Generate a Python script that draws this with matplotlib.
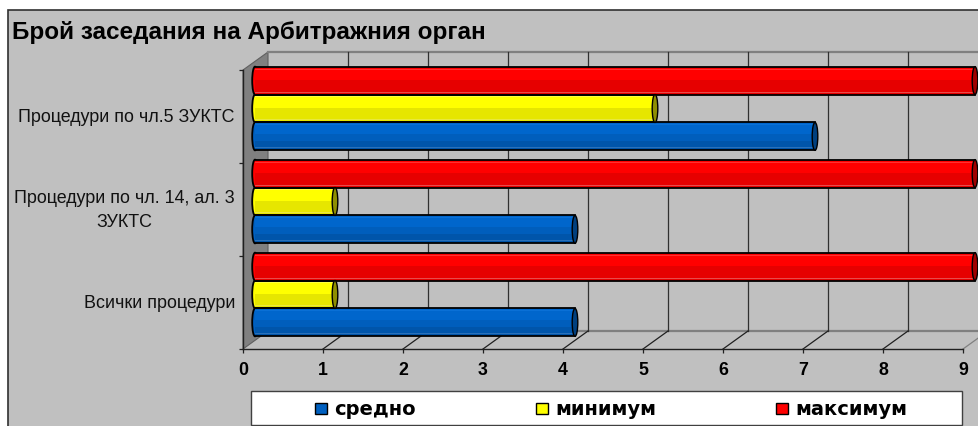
import numpy as np
import matplotlib
matplotlib.use("Agg")
import matplotlib.pyplot as plt
from matplotlib.patches import Rectangle, Ellipse, Polygon

# Data (bottom category first)
categories = ['Всички процедури', 'Процедури по чл. 14, ал. 3\nЗУКТС', 'Процедури по чл.5 ЗУКТС']
sredno_label = 'средно'
minimum_label = 'минимум'
maximum_label = 'максимум'
sredno = [4.1, 4.1, 7.1]
minimum = [1.1, 1.1, 5.1]
maximum = [9.1, 9.1, 9.1]
x_ticks = [0, 1, 2, 3, 4, 5, 6, 7, 8, 9]

W, H = 979, 427
GRAY = '#c0c0c0'
WALL = '#808080'

fig = plt.figure(figsize=(W / 100, H / 100), dpi=100, facecolor='white')
plt.rcParams['font.family'] = ['Liberation Sans', 'DejaVu Sans']


def px_axes(left, top, right, bottom):
    return fig.add_axes([left / W, 1 - bottom / H, (right - left) / W, (bottom - top) / H])


# Background: chart frame, title, legend box (pixel coordinates)
bg = px_axes(0, 0, W, H)
bg.set_xlim(0, W)
bg.set_ylim(H, 0)
bg.axis('off')
bg.add_patch(Rectangle((8, 11), W + 20, H + 20, fc=GRAY, ec='#303030', lw=1.2))
bg.text(12, 32, 'Брой заседания на Арбитражния орган', fontsize=17.45, fontweight='bold',
        family='Liberation Sans', va='center', ha='left', color='black')

bg.add_patch(Rectangle((251.5, 392), 711, 34, fc='white', ec='#404040', lw=1))
legend_items = [(sredno_label, '#0060c0', 315), (minimum_label, '#ffff00', 536), (maximum_label, '#ff0000', 776)]
for name, col, lx in legend_items:
    bg.add_patch(Rectangle((lx, 404), 12, 11, fc=col, ec='black', lw=1))
    bg.text(lx + 19, 410, name, fontsize=14, fontweight='bold', family='DejaVu Sans',
            va='center', ha='left', color='black')

# Front plane: axis scales, walls and grid
ax = px_axes(243, 71, 963, 350)
ax.set_zorder(1)
ax.patch.set_visible(False)
ax.set_xlim(0, 9)
ax.set_ylim(0, 3)
dx = 25 / 80
dy = 18 / 93

ax.add_patch(Polygon([(0, 0), (dx, dy), (dx, 3 + dy), (0, 3)], closed=True, fc=WALL, ec='#606060',
                     lw=0.8, clip_on=False, zorder=1))
ax.plot([dx, 10], [3 + dy, 3 + dy], color=WALL, lw=1.6, clip_on=False, zorder=1)
ax.plot([dx, 10], [dy, dy], color=WALL, lw=1.6, clip_on=False, zorder=1)
for k in x_ticks[1:]:
    col = WALL if k == 9 else '#202020'
    if k < 9:
        ax.plot([k + dx, k + dx], [dy, 3 + dy], color='#303030', lw=0.9, clip_on=False, zorder=1)
    ax.plot([k, k + dx], [0, dy], color=col, lw=0.9, clip_on=False, zorder=1)

for s in ['top', 'right']:
    ax.spines[s].set_visible(False)
for s in ['left', 'bottom']:
    ax.spines[s].set_color('#202020')
    ax.spines[s].set_linewidth(1.0)
ax.set_xticks(x_ticks)
ax.set_xticklabels([str(t) for t in x_ticks], fontsize=12.8, fontweight='bold', family='Liberation Sans')
ax.set_yticks([0, 1, 2, 3])
ax.set_yticklabels([])
ax.tick_params(axis='both', direction='out', length=3, width=0.9, color='#202020')
ax.tick_params(axis='x', pad=6)

for i, cat in enumerate(categories):
    ax.text(-8 / 80, i + 0.5, cat, ha='right', va='center', multialignment='center', fontsize=12.9,
            linespacing=1.5, family='Liberation Sans', color='#111111', clip_on=False)

# Bars sit in the middle of the depth, so a copy of the scale moved in and up
bars = px_axes(243 + 12, 71 - 8, 963 + 12, 350 - 8)
bars.set_zorder(2)
bars.axis('off')
bars.set_xlim(0, 9)
bars.set_ylim(0, 3)

BAR_H = 0.3
CAP_W = 0.07
shades = {
    'blue': (['#0066cc'] * 2 + ['#0a70d6'] + ['#0066cc'] * 9 + ['#005ebc'] * 6 + ['#0055aa'] * 6 + ['#2a70b8'] + ['#0055aa'] * 2,
             '#0060c0', '#00407f'),
    'yellow': (['#ffff00'] * 2 + ['#ffff40'] + ['#ffff00'] * 10 + ['#e6e600'] * 10 + ['#e8e840'] + ['#e6e600'] * 2,
               '#ffff00', '#8f8f00'),
    'red': (['#ff0000'] * 2 + ['#ff3030'] + ['#ff0000'] * 10 + ['#e60000'] * 11 + ['#e84a4a'] + ['#e60000'] * 2,
            '#ff0000', '#a00000'),
}

series = [(sredno, 'blue', -BAR_H), (minimum, 'yellow', 0), (maximum, 'red', BAR_H)]
for i in range(len(categories)):
    for values, name, off in series:
        rows, base, dark = shades[name]
        y = i + 0.5 + off
        v = values[i] - 0.1
        bars.add_patch(Ellipse((0, y), CAP_W, BAR_H, fc=base, ec='black', lw=1.3, clip_on=False, zorder=2))
        bars.barh(y, v, height=BAR_H, color=base, linewidth=0, clip_on=False, zorder=3)
        rgb = np.array([matplotlib.colors.to_rgb(c) for c in rows])[:, None, :]
        bars.imshow(rgb, extent=(0, v, y - BAR_H / 2, y + BAR_H / 2), aspect='auto',
                    interpolation='nearest', clip_on=False, zorder=3.1)
        bars.plot([0, v], [y + BAR_H / 2] * 2, color='black', lw=1.3, clip_on=False, zorder=4)
        bars.plot([0, v], [y - BAR_H / 2] * 2, color='black', lw=1.3, clip_on=False, zorder=4)
        bars.add_patch(Ellipse((v, y), CAP_W, BAR_H, fc=dark, ec='black', lw=1.0, clip_on=False, zorder=5))
bars.set_xlim(0, 9)
bars.set_ylim(0, 3)

fig.savefig('out.png', dpi=100)
